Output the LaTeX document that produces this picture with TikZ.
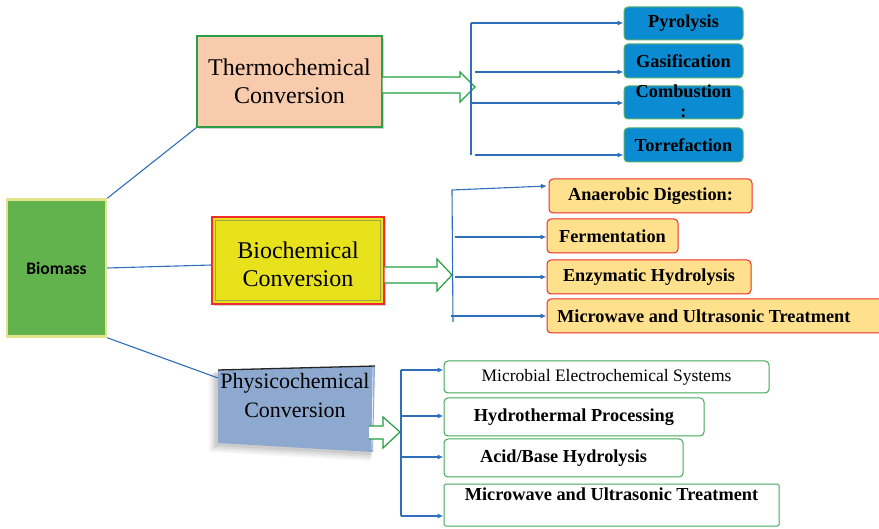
\documentclass[tikz,border=0pt]{standalone}
\usepackage{fontspec}
\setmainfont{Liberation Serif}
\newfontfamily\labelsans{Carlito}
\usetikzlibrary{arrows.meta,shadows}

\definecolor{leaf}{HTML}{62B24E}
\definecolor{leafrim}{HTML}{E4E48C}
\definecolor{peach}{HTML}{F8CBAD}
\definecolor{rimgreen}{HTML}{2E9E46}
\definecolor{lemon}{HTML}{E8E21C}
\definecolor{olive}{HTML}{8A8A18}
\definecolor{rimred}{HTML}{EE2C2C}
\definecolor{sky}{HTML}{0B8BD2}
\definecolor{gold}{HTML}{FFE08C}
\definecolor{steel}{HTML}{8EA9CF}
\definecolor{wire}{HTML}{2F6EBA}
\definecolor{hollowgreen}{HTML}{22A040}

\tikzset{
  mainbox/.style={draw=rimgreen, line width=1.4pt, minimum width=185pt, minimum height=91pt,
    align=center, inner sep=0pt, font=\fontsize{24}{28}\selectfont,
    drop shadow={opacity=0.35, shadow xshift=2pt, shadow yshift=-2pt}},
  itembox/.style={rounded corners=4pt, line width=1pt, inner sep=0pt,
    font=\bfseries\fontsize{18}{20}\selectfont},
  thermoitem/.style={itembox, fill=sky, draw=rimgreen!80, minimum width=119pt},
  bioitem/.style={itembox, fill=gold, draw=rimred, minimum height=34pt},
  physitem/.style={itembox, fill=white, draw=rimgreen!90},
  itemtext/.style={inner sep=0pt, font=\bfseries\fontsize{18.3}{20}\selectfont},
  wireline/.style={draw=wire, line width=1.1pt},
  wirearrow/.style={wireline, -{Latex[length=6pt,width=5pt]}},
  hollow/.style={draw=hollowgreen, line width=1.2pt, fill=white, line join=miter},
}

\begin{document}
\begin{tikzpicture}[x=1pt,y=-1pt]
\useasboundingbox (0,0) rectangle (879,529);

% ---------- root ----------
\node[fill=leaf, draw=leafrim, line width=2.5pt, minimum width=99pt, minimum height=137pt,
      font=\labelsans\bfseries\fontsize{17.5}{19}\selectfont, inner sep=0pt]
  (biomass) at (56.5,268) {Biomass};

% ---------- conversion routes ----------
\node[mainbox, fill=peach] (thermo) at (289.5,81.5) {Thermochemical\\Conversion};

\node[mainbox, fill=lemon, draw=rimred, line width=1.3pt, minimum width=172pt, minimum height=87pt]
  (bio) at (298,260.5) {};
\draw[olive!80, line width=1.2pt] ([shift={(4pt,-4pt)}]bio.north west) rectangle ([shift={(-4pt,4pt)}]bio.south east);
\node[align=center, inner sep=0pt, font=\fontsize{24}{28}\selectfont] (biotext) at (298,264) {Biochemical\\Conversion};

% slanted physicochemical panel with a soft shadow
\foreach \d/\o in {9/0.04,7/0.05,5/0.06,3/0.07}{
  \fill[black, opacity=\o] (218-\d,370+0.5*\d) -- (375-0.3*\d,366+0.5*\d) -- (373-0.3*\d,452+\d) -- (218-\d,443+\d) -- cycle;
}
\fill[steel] (218,370) -- (375,366) -- (373,452) -- (218,443) -- cycle;
\draw[black!85, line width=1.3pt] (218,370) -- (375,366);
\draw[white!80!steel, line width=0.8pt] (373,368) -- (372,450);
\coordinate (physwest) at (218,378);
\node[align=center, inner sep=0pt, font=\fontsize{22}{29}\selectfont] (phys) at (295,395) {Physicochemical\\Conversion};

% ---------- links from the root ----------
\draw[wireline] (biomass.north east) -- (thermo.south west);
\draw[wireline] (biomass.east) -- ([yshift=-4.5pt]bio.west);
\draw[wireline] (biomass.south east) -- (physwest);

% ---------- hollow arrows ----------
\draw[hollow] (thermo.east |- 0,77) -- (460,77) -- (460,72) -- (475,87) -- (460,102) -- (460,93) -- (thermo.east |- 0,93);
\draw[hollow] (bio.east |- 0,267) -- (437,267) -- (437,259) -- (452,275) -- (437,291) -- (437,283) -- (bio.east |- 0,283);
\draw[hollow] (369,426) -- (383,426) -- (383,417) -- (400,432) -- (383,448) -- (383,439) -- (369,439);

% ---------- thermochemical items ----------
\node[thermoitem, minimum height=33pt] (pyro) at (683.5,23.5) {};
\node[itemtext] (pyrot) at (pyro.center) {Pyrolysis};
\node[thermoitem, minimum height=34pt] (gasi) at (683.5,61) {};
\node[itemtext] (gasit) at (gasi.center) {Gasification};
\node[thermoitem, minimum height=33pt] (comb) at (683.5,102.5) {};
\node[itemtext, align=center] (combt) at (683.5,101) {Combustion\\:};
\node[thermoitem, minimum height=34pt] (torr) at (683.5,145) {};
\node[itemtext] (torrt) at (torr.center) {Torrefaction};

\coordinate (t1) at (471,23);
\coordinate (t2) at (475,72);
\coordinate (t3) at (471,103);
\coordinate (t4) at (475,155);
\draw[wireline] (t1) -- (471,155);
\draw[wirearrow] (t1) -- (t1 -| pyro.west);
\draw[wirearrow] (t2) -- (t2 -| gasi.west);
\draw[wirearrow] (t3) -- (t3 -| comb.west);
\draw[wirearrow] (t4) -- (t4 -| torr.west);

% ---------- biochemical items ----------
\node[bioitem, minimum width=203pt] (anaer) at (650.5,196) {};
\node[itemtext] (anaert) at (anaer.center) {Anaerobic Digestion:};
\node[bioitem, minimum width=131pt] (ferm) at (612.5,236) {};
\node[itemtext] (fermt) at (ferm.center) {Fermentation};
\node[bioitem, minimum width=340pt] (mwbio) at (717,316) {};
\node[bioitem, minimum width=204pt] (enzy) at (649,277) {};
\node[itemtext] (enzyt) at (enzy.center) {Enzymatic Hydrolysis};
\node[itemtext, anchor=west] (mwbiot) at (557,316) {Microwave and Ultrasonic Treatment};

\coordinate (b1) at (452,190);
\coordinate (b1e) at (547,186);
\coordinate (b2) at (455,237);
\coordinate (b3) at (455,277);
\coordinate (b4) at (451,316);
\draw[wireline] (b1) -- (453,322);
\draw[wirearrow] (b1) -- (b1e);
\draw[wirearrow] (b2) -- (b2 -| ferm.west);
\draw[wirearrow] (b3) -- (b3 -| enzy.west);
\draw[wirearrow] (b4) -- (b4 -| mwbio.west);

% ---------- physicochemical items ----------
\node[physitem, minimum width=325pt, minimum height=32pt] (mes) at (606.5,377) {};
\node[inner sep=0pt, font=\fontsize{17.5}{20}\selectfont] (mest) at (mes.center) {Microbial Electrochemical Systems};
\node[physitem, minimum width=260pt, minimum height=38pt] (hydro) at (574,417) {};
\node[itemtext] (hydrot) at (hydro.center) {Hydrothermal Processing};
\node[physitem, minimum width=239pt, minimum height=38pt] (acid) at (563.5,458) {};
\node[itemtext] (acidt) at (acid.center) {Acid/Base Hydrolysis};
\node[physitem, rounded corners=1.5pt, minimum width=335pt, minimum height=42pt] (mwphys) at (611.5,505) {};
\node[itemtext] (mwphyst) at (611.5,494) {Microwave and Ultrasonic Treatment};

\coordinate (p1) at (401,370);
\coordinate (p2) at (401,416);
\coordinate (p3) at (401,457);
\coordinate (p4) at (401,516);
\draw[wireline] (p1) -- (p4);
\draw[wirearrow] (p1) -- (p1 -| mes.west);
\draw[wirearrow] (p2) -- (p2 -| hydro.west);
\draw[wirearrow] (p3) -- (p3 -| acid.west);
\draw[wirearrow] (p4) -- (p4 -| mwphys.west);
\end{tikzpicture}
\end{document}
